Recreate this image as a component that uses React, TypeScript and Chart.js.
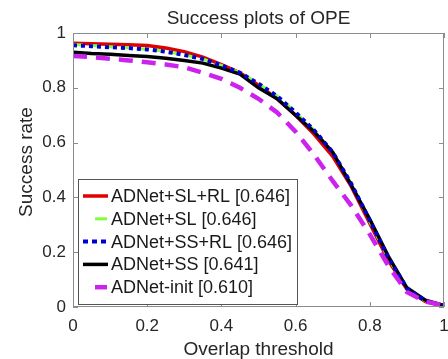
import React, { useEffect, useRef } from "react";
import { Chart, registerables } from "chart.js";

Chart.register(...registerables);

const thresholds = [0, 0.05, 0.1, 0.15, 0.2, 0.25, 0.3, 0.35, 0.4, 0.45, 0.5, 0.55, 0.6, 0.65, 0.7, 0.75, 0.8, 0.85, 0.9, 0.95, 1];

const slRl = [0.963, 0.961, 0.959, 0.957, 0.954, 0.945, 0.932, 0.912, 0.885, 0.855, 0.81, 0.76, 0.7, 0.63, 0.55, 0.44, 0.305, 0.17, 0.065, 0.02, 0.005];
const sl = [0.958, 0.954, 0.95, 0.946, 0.941, 0.933, 0.92, 0.905, 0.882, 0.855, 0.815, 0.77, 0.71, 0.645, 0.565, 0.45, 0.312, 0.178, 0.066, 0.022, 0.005];
const ssRl = [0.955, 0.952, 0.948, 0.945, 0.94, 0.932, 0.92, 0.905, 0.882, 0.855, 0.815, 0.77, 0.71, 0.645, 0.565, 0.45, 0.315, 0.18, 0.068, 0.022, 0.005];
const ss = [0.93, 0.925, 0.922, 0.918, 0.914, 0.908, 0.9, 0.89, 0.872, 0.85, 0.8, 0.76, 0.7, 0.64, 0.565, 0.445, 0.32, 0.185, 0.07, 0.025, 0.005];
const init = [0.916, 0.912, 0.906, 0.9, 0.893, 0.885, 0.875, 0.855, 0.833, 0.8, 0.76, 0.71, 0.64, 0.555, 0.46, 0.37, 0.265, 0.15, 0.055, 0.02, 0.005];

const seriesNames = ["ADNet+SL+RL [0.646]", "ADNet+SL [0.646]", "ADNet+SS+RL [0.646]", "ADNet+SS [0.641]", "ADNet-init [0.610]"];

const xTicks = [0, 0.2, 0.4, 0.6, 0.8, 1];
const xTickLabels = ["0", "0.2", "0.4", "0.6", "0.8", "1"];
const yTicks = [0, 0.2, 0.4, 0.6, 0.8, 1];
const yTickLabels = ["0", "0.2", "0.4", "0.6", "0.8", "1"];

const chartTitle = "Success plots of OPE";
const xTitle = "Overlap threshold";
const yTitle = "Success rate";

const FONT = "'Liberation Sans', Arial, sans-serif";

type Style = { color: string; width: number; dash: number[]; legend: "full" | "short" | "dots" };
const styles: Style[] = [
  { color: "#e00000", width: 3.5, dash: [], legend: "full" },
  { color: "#80ff40", width: 3, dash: [10, 6], legend: "short" },
  { color: "#0000d0", width: 4, dash: [4, 4], legend: "dots" },
  { color: "#000000", width: 3.5, dash: [], legend: "full" },
  { color: "#cc22ee", width: 4.5, dash: [14, 9], legend: "short" },
];
const seriesValues = [slRl, sl, ssRl, ss, init];
const drawOrder = [4, 3, 1, 2, 0];

const framePlugin = {
  id: "frame",
  afterDatasetsDraw(chart: any) {
    const ctx = chart.ctx;
    const { left, right, top, bottom } = chart.chartArea;
    const xs = chart.scales.x;
    const ys = chart.scales.y;
    ctx.save();
    ctx.strokeStyle = "#8c8c8c";
    ctx.lineWidth = 1;
    ctx.setLineDash([]);
    ctx.strokeRect(left + 0.5, top + 0.5, right - left - 1, bottom - top - 1);
    const tl = 5;
    ctx.beginPath();
    xTicks.forEach((v) => {
      const px = Math.round(xs.getPixelForValue(v)) + 0.5;
      ctx.moveTo(px, bottom);
      ctx.lineTo(px, bottom - tl);
      ctx.moveTo(px, top);
      ctx.lineTo(px, top + tl);
    });
    yTicks.forEach((v) => {
      const py = Math.round(ys.getPixelForValue(v)) + 0.5;
      ctx.moveTo(left, py);
      ctx.lineTo(left + tl, py);
      ctx.moveTo(right, py);
      ctx.lineTo(right - tl, py);
    });
    ctx.stroke();

    // titles
    ctx.fillStyle = "#262626";
    ctx.font = `19px ${FONT}`;
    ctx.textAlign = "center";
    ctx.textBaseline = "alphabetic";
    ctx.fillText(chartTitle, (left + right) / 2, 24);
    ctx.fillText(xTitle, (left + right) / 2, 355);
    ctx.save();
    ctx.translate(32, 162);
    ctx.rotate(-Math.PI / 2);
    ctx.fillText(yTitle, 0, 0);
    ctx.restore();

    // legend
    const lx = 78, ly = 179, lw = 219, lh = 125;
    ctx.fillStyle = "#ffffff";
    ctx.fillRect(lx, ly, lw, lh);
    ctx.strokeStyle = "#555555";
    ctx.lineWidth = 1;
    ctx.strokeRect(lx + 0.5, ly + 0.5, lw, lh);
    ctx.font = `18px ${FONT}`;
    ctx.textAlign = "left";
    ctx.textBaseline = "middle";
    seriesNames.forEach((name, i) => {
      const cy = 196 + i * 22.8;
      const st = styles[i];
      ctx.strokeStyle = st.color;
      ctx.lineWidth = st.width;
      ctx.lineCap = "butt";
      ctx.beginPath();
      if (st.legend === "full") {
        ctx.setLineDash([]);
        ctx.moveTo(83, cy);
        ctx.lineTo(108, cy);
      } else if (st.legend === "short") {
        ctx.setLineDash([]);
        ctx.moveTo(95, cy);
        ctx.lineTo(107, cy);
      } else {
        ctx.setLineDash([5, 4]);
        ctx.moveTo(83, cy);
        ctx.lineTo(108, cy);
      }
      ctx.stroke();
      ctx.setLineDash([]);
      ctx.fillStyle = "#1a1a1a";
      ctx.fillText(name, 111, cy + 1);
    });
    ctx.restore();
  },
};

export default function App() {
  const ref = useRef<HTMLCanvasElement | null>(null);
  useEffect(() => {
    if (!ref.current) return;
    const datasets = seriesValues.map((vals, i) => ({
      label: seriesNames[i],
      data: thresholds.map((t, k) => ({ x: t, y: vals[k] })),
      borderColor: styles[i].color,
      backgroundColor: styles[i].color,
      borderWidth: styles[i].width,
      borderDash: styles[i].dash,
      pointRadius: 0,
      tension: 0,
      fill: false,
      order: drawOrder[i],
    }));
    const chart = new Chart(ref.current, {
      type: "line",
      data: { datasets },
      options: {
        responsive: false,
        animation: false,
        layout: { padding: { top: 33, right: 4, left: 0, bottom: 0 } },
        plugins: { legend: { display: false }, title: { display: false }, tooltip: { enabled: false } },
        scales: {
          x: {
            type: "linear",
            min: 0,
            max: 1,
            grid: { display: false, drawTicks: false },
            border: { display: false },
            afterBuildTicks: (s: any) => {
              s.ticks = xTicks.map((v) => ({ value: v }));
            },
            afterFit: (s: any) => {
              s.height = 52;
              s.paddingLeft = 0;
              s.paddingRight = 0;
            },
            ticks: {
              padding: 9,
              color: "#262626",
              font: { family: FONT, size: 17 },
              maxRotation: 0,
              callback: (_v: any, i: number) => xTickLabels[i],
            },
          },
          y: {
            type: "linear",
            min: 0,
            max: 1,
            grid: { display: false, drawTicks: false },
            border: { display: false },
            afterBuildTicks: (s: any) => {
              s.ticks = yTicks.map((v) => ({ value: v }));
            },
            afterFit: (s: any) => {
              s.width = 73;
              s.paddingTop = 0;
              s.paddingBottom = 0;
            },
            ticks: {
              padding: 7,
              color: "#262626",
              font: { family: FONT, size: 17 },
              callback: (_v: any, i: number) => yTickLabels[i],
            },
          },
        },
      },
      plugins: [framePlugin],
    });
    return () => chart.destroy();
  }, []);
  return (
    <div style={{ position: "fixed", left: 0, top: 0, width: 448, height: 359, background: "#fff" }}>
      <canvas ref={ref} width={448} height={359} style={{ display: "block", width: 448, height: 359 }} />
    </div>
  );
}
